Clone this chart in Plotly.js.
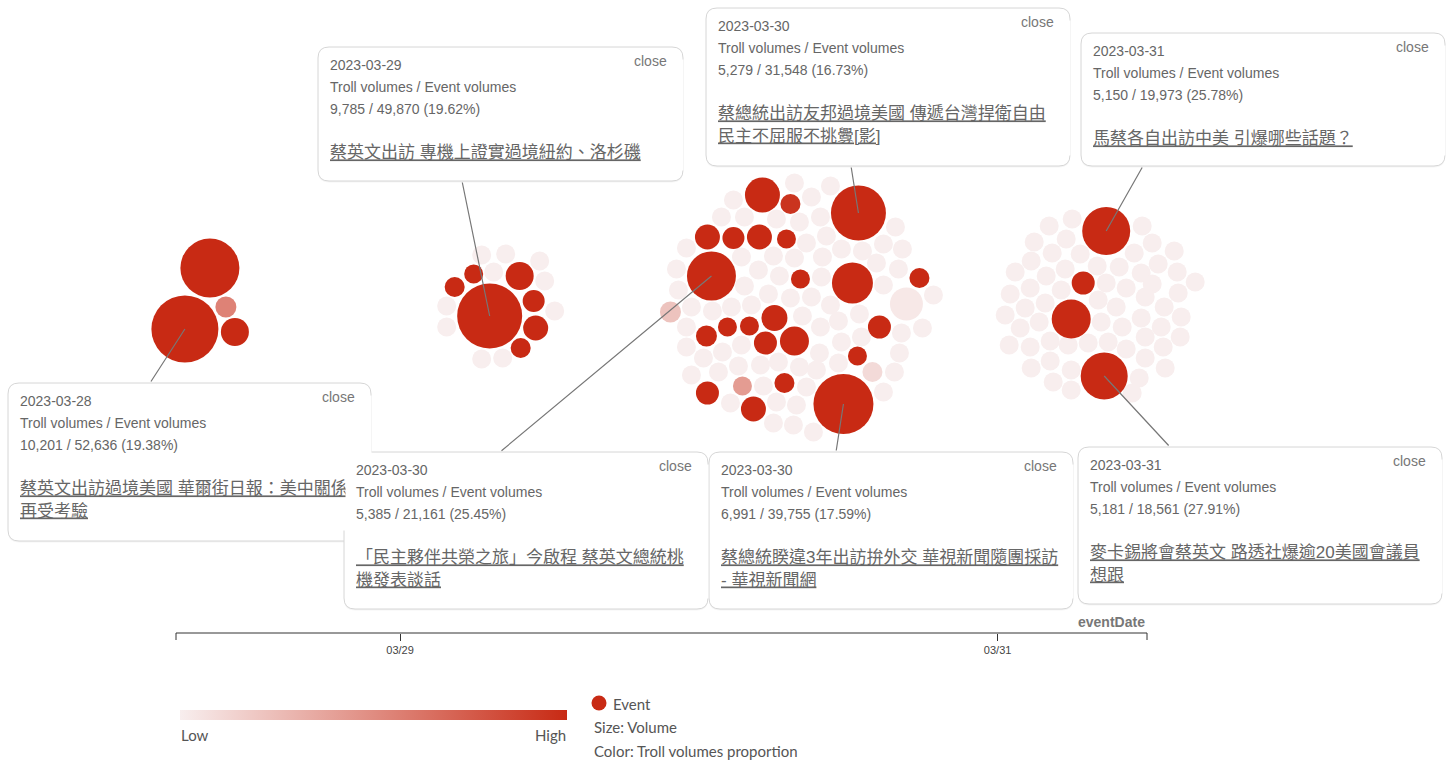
<!DOCTYPE html>
<html><head><meta charset="utf-8">
<script src="https://cdn.plot.ly/plotly-3.0.1.min.js"></script>
<style>html,body{margin:0;padding:0;background:#fff}#chart{width:1450px;height:760px}</style>
</head><body><div id="chart"></div>
<script>
// ---------- data ----------
const clusterDates = ['2023-03-28', '2023-03-29', '2023-03-30', '2023-03-31'];
// bubbles per day: [offset along axis, offset up, diameter (volume), troll share 0..1]
const bubbles0328 = [[9,37,59,1],[-16,-24,67,1],[34,-27,28,1],[25,-2,21,0.55]];
const bubbles0329 = [[-10,-11,65,1],[-26,31,19,1],[-45,18,20,1],[20,29,28,1],[34,4,22,1],[36,-23,25,1],[21,-43,20,1],
  [-18,50,19,0],[6,51,19,0],[40,44,19,0],[-6,33,19,0],[45,24,19,0],[-53,-1,19,0],[55,-6,19,0],[-53,-22,19,0],[-18,-54,19,0],[3,-53,19,0]];
const bubbles0330 = [[-36,110,35,1],[-8,101,20,0.95],[60,92,55,1],[-91,68,25,1],[-65,67,22,1],[-39,68,25,1],[-12,66,19,1],
  [-87,29,49,1],[2,26,19,1],[54,22,41,1],[121,27,20,1],[-24,-13,26,1],[-71,-22,19,1],[-49,-21,19,1],[-92,-31,21,1],
  [-33,-38,23,1],[-4,-36,29,1],[81,-22,23,1],[59,-51,19,1],[-14,-78,20,1],[-91,-88,23,1],[-45,-104,25,1],[45,-99,60,1],
  [-128,-7,21,0.22],[-56,-81,19,0.42],[74,-67,20,0.1],[108,1,33,0.03],
  [-4,122,19,0],[32,119,19,0],[-65,105,19,0],[13,108,19,0],[-77,88,19,0],[-54,88,19,0],[-22,86,19,0],[1,83,19,0],[22,88,19,0],
  [97,78,19,0],[85,61,19,0],[104,56,19,0],[-112,57,19,0],[8,62,19,0],[28,69,19,0],[43,56,19,0],[64,54,19,0],[-57,48,19,0],
  [-25,49,19,0],[-4,47,19,0],[24,48,19,0],[78,42,19,0],[100,36,19,0],[-122,36,19,0],[-40,35,19,0],[-19,29,19,0],[23,28,19,0],
  [85,20,19,0],[135,10,19,0],[-120,15,19,0],[-54,19,19,0],[-30,11,19,0],[-8,7,19,0],[13,8,19,0],[32,0,19,0],[-107,-2,19,0],
  [-86,-6,19,0],[-67,-2,19,0],[-47,0,19,0],[4,-11,19,0],[22,-22,19,0],[40,-16,19,0],[61,-9,19,0],[103,-28,19,0],[124,-23,19,0],
  [-112,-22,19,0],[43,-37,19,0],[63,-32,19,0],[101,-48,19,0],[-112,-42,19,0],[-76,-47,19,0],[-57,-40,19,0],[-95,-53,19,0],
  [21,-48,19,0],[-38,-60,19,0],[-20,-57,19,0],[1,-62,19,0],[40,-58,19,0],[-107,-70,19,0],[-80,-67,19,0],[-60,-61,19,0],
  [18,-65,19,0],[96,-67,19,0],[-35,-81,19,0],[8,-82,19,0],[85,-87,19,0],[-68,-98,19,0],[-22,-97,19,0],[-2,-100,19,0],
  [-25,-118,19,0],[-5,-120,19,0],[15,-127,19,0]];
const bubbles0331 = [[9,74,48,1],[-14,22,23,1],[-26,-14,39,1],[7,-71,47,1],
  [-25,86,19,0],[-48,79,19,0],[45,79,19,0],[-63,63,19,0],[-31,66,19,0],[55,62,19,0],[77,54,19,0],[-45,52,19,0],[-17,51,19,0],
  [37,52,19,0],[-66,44,19,0],[61,41,19,0],[0,39,19,0],[22,38,19,0],[-32,36,19,0],[-82,33,19,0],[44,32,19,0],[80,33,19,0],
  [-51,29,19,0],[98,23,19,0],[9,22,19,0],[29,17,19,0],[-67,17,19,0],[-36,15,19,0],[55,21,19,0],[81,12,19,0],[-87,11,19,0],
  [1,5,19,0],[48,8,19,0],[-52,2,19,0],[19,-2,19,0],[67,-2,19,0],[-72,-3,19,0],[-92,-10,19,0],[84,-12,19,0],[4,-17,19,0],
  [44,-13,19,0],[-58,-17,19,0],[25,-22,19,0],[64,-22,19,0],[-77,-23,19,0],[48,-32,19,0],[83,-32,19,0],[-47,-36,19,0],
  [-29,-40,19,0],[-9,-38,19,0],[11,-37,19,0],[-88,-40,19,0],[66,-42,19,0],[-67,-42,19,0],[29,-44,19,0],[48,-53,19,0],
  [-47,-56,19,0],[-26,-65,19,0],[68,-63,19,0],[-66,-63,19,0],[42,-73,19,0],[-44,-77,19,0],[-26,-85,19,0],[35,-88,19,0]];

// callouts (event cards)
const calloutCluster = [0, 1, 2, 3, 2, 2, 3];
const calloutBubble  = [1, 0, 2, 0, 7, 22, 3];
const calloutDates   = ['2023-03-28','2023-03-29','2023-03-30','2023-03-31','2023-03-30','2023-03-30','2023-03-31'];
const trollVolumes   = [10201, 9785, 5279, 5150, 5385, 6991, 5181];
const eventVolumes   = [52636, 49870, 31548, 19973, 21161, 39755, 18561];
const eventTitles = [
  ['蔡英文出訪過境美國 華爾街日報：美中關係', '再受考驗'],
  ['蔡英文出訪 專機上證實過境紐約、洛杉磯'],
  ['蔡總統出訪友邦過境美國 傳遞台灣捍衛自由', '民主不屈服不挑釁[影]'],
  ['馬蔡各自出訪中美 引爆哪些話題？'],
  ['「民主夥伴共榮之旅」今啟程 蔡英文總統桃', '機發表談話'],
  ['蔡總統睽違3年出訪拚外交 華視新聞隨團採訪', '- 華視新聞網'],
  ['麥卡錫將會蔡英文 路透社爆逾20美國會議員', '想跟']
];
const tickDates  = ['2023-03-29', '2023-03-31'];
const tickLabels = ['03/29', '03/31'];

// ---------- layout geometry (pixels) ----------
const W = 1450, H = 760, PL = 176, PR = 1147, PT = 0, PB = 633;
const cardL = [8, 318, 706, 1081, 344, 709, 1078];
const cardT = [383, 47, 8, 33, 452, 452, 447];
const cardR = [371, 683, 1070, 1445, 708, 1073, 1442];
const cardB = [541, 181, 166, 166, 609, 609, 604];
const lineEndX = [150, 462, 851, 1143, 500, 836, 1170];
const lineEndY = [383, 181, 166, 166, 452, 452, 447];

// visible time axis runs from PL to PR
const axisRange = ['2023-03-28 06:00', '2023-03-31 12:00'];
const x0ms = Date.UTC(2023, 2, 28, 6), x1ms = Date.UTC(2023, 2, 31, 12);
const msPerPx = (x1ms - x0ms) / (PR - PL);
const fullRange = [x0ms - PL * msPerPx, x0ms + (W - PL) * msPerPx];
const yCenterPx = 305;
const yRange = [-(PB - yCenterPx), yCenterPx - PT];

function dayAnchor(d) { const p = d.split('-').map(Number); return Date.UTC(p[0], p[1] - 1, p[2], 8); }
const px2x = p => p / W;
const py2y = p => (PB - p) / (PB - PT);

// ---------- bubbles ----------
const clusters = [bubbles0328, bubbles0329, bubbles0330, bubbles0331];
let pts = [];
clusters.forEach((arr, ci) => {
  const a = dayAnchor(clusterDates[ci]);
  arr.forEach(b => pts.push({x: a + b[0] * msPerPx, y: b[1], s: b[2], c: b[3]}));
});
pts.sort((p, q) => p.c - q.c);

const RED = '#c82a14';
const trace = {
  type: 'scatter', mode: 'markers', hoverinfo: 'skip', showlegend: false,
  x: pts.map(p => p.x), y: pts.map(p => p.y),
  marker: {
    size: pts.map(p => p.s), sizemode: 'diameter', color: pts.map(p => p.c),
    cmin: 0, cmax: 1, colorscale: [[0, '#f8eeee'], [1, RED]], line: {width: 0}, opacity: 1,
    showscale: true,
    colorbar: {orientation: 'h', x: px2x(180), xanchor: 'left', y: py2y(710), yanchor: 'top',
      len: 387, lenmode: 'pixels', thickness: 10, outlinewidth: 0, showticklabels: false, ticks: '',
      xpad: 0, ypad: 0, title: {text: ''}}
  }
};

// ---------- cards ----------
function roundRect(L, T, R, B, r) {
  const X = px2x, Y = py2y;
  return `M${X(L + r)},${Y(T)} L${X(R - r)},${Y(T)} Q${X(R)},${Y(T)} ${X(R)},${Y(T + r)} ` +
    `L${X(R)},${Y(B - r)} Q${X(R)},${Y(B)} ${X(R - r)},${Y(B)} L${X(L + r)},${Y(B)} ` +
    `Q${X(L)},${Y(B)} ${X(L)},${Y(B - r)} L${X(L)},${Y(T + r)} Q${X(L)},${Y(T)} ${X(L + r)},${Y(T)} Z`;
}
const shapes = [];
const annotations = [];
const fmt = n => n.toLocaleString('en-US');
const CARD_FONT = 'Liberation Sans, Noto Sans CJK TC, sans-serif';

calloutDates.forEach((d, i) => {
  const L = cardL[i], T = cardT[i], R = cardR[i], B = cardB[i];
  shapes.push({type: 'path', xref: 'paper', yref: 'paper', layer: 'above',
    path: roundRect(L, T + 1.5, R, B + 1.5, 11), fillcolor: 'rgba(0,0,0,0.04)', line: {width: 0}});
  shapes.push({type: 'path', xref: 'paper', yref: 'paper', layer: 'above',
    path: roundRect(L, T, R, B, 11), fillcolor: '#ffffff', line: {color: '#d6d6d6', width: 1}});

  // connector from the card to its event bubble
  const ci = calloutCluster[i], b = clusters[ci][calloutBubble[i]];
  const bx = dayAnchor(clusterDates[ci]) + b[0] * msPerPx, by = b[1];
  const bpx = PL + (bx - x0ms) / msPerPx, bpy = yCenterPx - by;
  annotations.push({x: bx, y: by, xref: 'x', yref: 'y', showarrow: true, arrowhead: 0, arrowwidth: 1.2,
    arrowcolor: '#777', ax: lineEndX[i] - bpx, ay: lineEndY[i] - bpy, standoff: 0, startstandoff: 0,
    text: '', font: {size: 1}});

  // white cover so a later card hides text of an earlier overlapping card
  annotations.push({xref: 'paper', yref: 'paper', x: px2x(L + 1), y: py2y(T + 12), xanchor: 'left', yanchor: 'top',
    showarrow: false, text: ' ', width: R - L - 2, height: B - T - 24, borderpad: 0, bgcolor: '#ffffff'});

  const pct = (trollVolumes[i] / eventVolumes[i] * 100).toFixed(2);
  const sm = s => `<span style="font-size:14px">${s}</span>`;
  const text = [sm(d), sm('Troll volumes / Event volumes'),
    sm(`${fmt(trollVolumes[i])} / ${fmt(eventVolumes[i])} (${pct}%)`), '']
    .concat(eventTitles[i].map(t => `<u>${t}</u>`)).join('<br>');
  annotations.push({xref: 'paper', yref: 'paper', x: px2x(L + 10), y: py2y(T + 8), xanchor: 'left', yanchor: 'top',
    align: 'left', showarrow: false, text, font: {family: CARD_FONT, size: 17, color: '#666'}});
  annotations.push({xref: 'paper', yref: 'paper', x: px2x(R - 14), y: py2y(T + 14), xanchor: 'right', yanchor: 'middle',
    showarrow: false, text: 'close', font: {family: 'Liberation Sans, sans-serif', size: 14, color: '#777'}});
});

// time axis line and its end ticks
shapes.push({type: 'line', xref: 'x', yref: 'paper', x0: axisRange[0], x1: axisRange[1], y0: 0, y1: 0,
  line: {color: '#333', width: 1}});
axisRange.forEach(xv => shapes.push({type: 'line', xref: 'x', yref: 'paper', x0: xv, x1: xv,
  y0: 0, y1: py2y(PB + 7), line: {color: '#333', width: 1}}));

// axis title
annotations.push({xref: 'x', yref: 'paper', x: axisRange[1], y: py2y(622), xanchor: 'right', yanchor: 'middle',
  showarrow: false, text: '<b>eventDate</b>', font: {family: 'Liberation Sans, sans-serif', size: 14, color: '#777'}});

// legend
const LEG = {family: 'Lato, sans-serif', size: 15, color: '#555'};
shapes.push({type: 'circle', xref: 'paper', yref: 'paper', xsizemode: 'pixel', ysizemode: 'pixel',
  xanchor: px2x(599), yanchor: py2y(703), x0: -7.5, x1: 7.5, y0: -7.5, y1: 7.5, fillcolor: RED, line: {width: 0}});
annotations.push({xref: 'paper', yref: 'paper', x: px2x(611), y: py2y(704), xanchor: 'left', yanchor: 'middle', showarrow: false, text: 'Event', font: LEG});
annotations.push({xref: 'paper', yref: 'paper', x: px2x(592), y: py2y(727), xanchor: 'left', yanchor: 'middle', showarrow: false, text: 'Size: Volume', font: LEG});
annotations.push({xref: 'paper', yref: 'paper', x: px2x(592), y: py2y(751), xanchor: 'left', yanchor: 'middle', showarrow: false, text: 'Color: Troll volumes proportion', font: LEG});
annotations.push({xref: 'paper', yref: 'paper', x: px2x(179), y: py2y(735), xanchor: 'left', yanchor: 'middle', showarrow: false, text: 'Low', font: LEG});
annotations.push({xref: 'paper', yref: 'paper', x: px2x(568), y: py2y(735), xanchor: 'right', yanchor: 'middle', showarrow: false, text: 'High', font: LEG});

const layout = {
  width: W, height: H, margin: {l: 0, r: 0, t: PT, b: H - PB, pad: 0},
  paper_bgcolor: '#fff', plot_bgcolor: '#fff', showlegend: false, hovermode: false,
  xaxis: {type: 'date', range: fullRange, showgrid: false, zeroline: false, showline: false,
    ticks: 'outside', ticklen: 7, tickcolor: '#333', tickwidth: 1,
    tickvals: tickDates, ticktext: tickLabels,
    tickfont: {family: 'Liberation Sans, sans-serif', size: 11, color: '#444'}, fixedrange: true},
  yaxis: {visible: false, range: yRange, fixedrange: true},
  shapes, annotations
};
Plotly.newPlot('chart', [trace], layout, {displayModeBar: false, staticPlot: true});
</script></body></html>
